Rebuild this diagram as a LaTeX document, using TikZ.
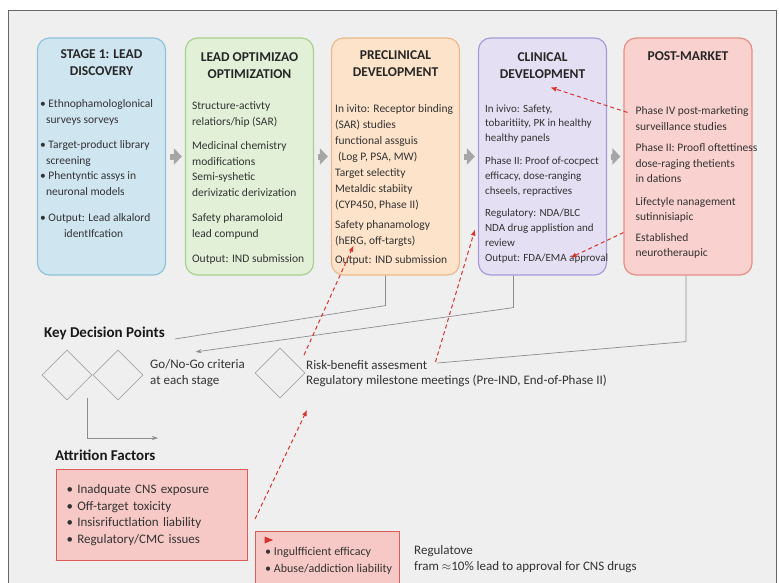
\documentclass[tikz,border=0pt]{standalone}
\usepackage{fontspec}
\setmainfont{Carlito}
\usepackage{xcolor}
\usepackage{tikz}
\usetikzlibrary{shapes.geometric, arrows, arrows.meta}
\definecolor{bgc}{HTML}{EFEFEF}
\definecolor{blueF}{HTML}{CFE6F1}
\definecolor{blueD}{HTML}{8EC3DB}
\definecolor{greenF}{HTML}{E1F0D7}
\definecolor{greenD}{HTML}{A9D18E}
\definecolor{orangeF}{HTML}{FDE3C9}
\definecolor{orangeD}{HTML}{EDB98B}
\definecolor{purpleF}{HTML}{E4DFF3}
\definecolor{purpleD}{HTML}{A89BD8}
\definecolor{redF}{HTML}{F9D1CE}
\definecolor{redD}{HTML}{E68E87}
\definecolor{attrF}{HTML}{F7C9C6}
\definecolor{attrD}{HTML}{DD5E57}
\definecolor{hintc}{HTML}{D8342F}
\definecolor{txt}{HTML}{333333}
\tikzstyle{stage} = [rectangle, rounded corners=12pt, minimum width=128pt, minimum height=237pt, line width=1.2pt]
\tikzstyle{head} = [align=center, inner sep=0pt, text=black!85, font=\bfseries\fontsize{13.5}{16.5}\selectfont]
\tikzstyle{body} = [align=left, anchor=north west, inner sep=0pt, text=txt, font=\fontsize{11.5}{15.5}\selectfont]
\tikzstyle{note} = [align=left, inner sep=0pt, text=txt, font=\fontsize{13}{16.5}\selectfont]
\tikzstyle{sect} = [inner sep=0pt, text=black!90, font=\bfseries\fontsize{15}{18}\selectfont]
\tikzstyle{decision} = [diamond, draw=black!35, line width=0.8pt, minimum width=50pt, minimum height=50pt, inner sep=0pt]
\tikzstyle{attr} = [rectangle, fill=attrF, draw=attrD, line width=1pt]
\tikzstyle{arrow} = [line width=6pt, draw=black!35, -{Triangle[width=16pt,length=8pt]}, shorten <=4pt, shorten >=3pt]
\tikzstyle{line} = [draw=black!45, line width=0.7pt]
\tikzstyle{hint} = [draw=hintc, line width=1pt, dash pattern=on 4pt off 3pt, -{Latex[length=6pt,width=5pt]}]

\begin{document}
\begin{tikzpicture}[x=1pt, y=-1pt]
   \useasboundingbox (0,0) rectangle (779,582);
   \fill[white] (0,0) rectangle (779,582);
   \draw[fill=bgc, draw=black!60] (8,10) rectangle (776,600);

   \node (s1) [stage, fill=blueF, draw=blueD] at (101.5,156.5) {};
   \node (s2) [stage, fill=greenF, draw=greenD] at (249.5,156.5) {};
   \node (s3) [stage, fill=orangeF, draw=orangeD] at (395.5,156.5) {};
   \node (s4) [stage, fill=purpleF, draw=purpleD] at (542.5,156.5) {};
   \node (s5) [stage, fill=redF, draw=redD] at (688,156.5) {};

   \node (h1) [head] at ([yshift=-25pt]s1.north) {STAGE 1: LEAD\\DISCOVERY};
   \node (h2) [head] at ([yshift=-28pt]s2.north) {LEAD OPTIMIZAO\\OPTIMIZATION};
   \node (h3) [head] at ([yshift=-26pt]s3.north) {PRECLINICAL\\DEVELOPMENT};
   \node (h4) [head] at ([yshift=-28pt]s4.north) {CLINICAL\\DEVELOPMENT};
   \node (h5) [head] at ([yshift=-19pt]s5.north) {POST-MARKET};

   \node (b1) [body] at ([xshift=3pt,yshift=-62pt]s1.north west) {\textbullet\ Ethnophamologlonical\\
      \hspace*{6pt}surveys sorveys\\[10pt]
      \textbullet\ Target-product library\\
      \hspace*{6pt}screening\\
      \textbullet\ Phentyntic assys in\\
      \hspace*{6pt}neuronal models\\[11pt]
      \textbullet\ Output: Lead alkalord\\
      \hspace*{24pt}identIfcation};
   \node (b2) [body] at ([xshift=7pt,yshift=-64pt]s2.north west) {Structure-activty\\
      relatiors/hip (SAR)\\[9pt]
      Medicinal chemistry\\
      modifications\\
      Semi-syshetic\\
      derivizatic derivization\\[10pt]
      Safety pharamoloid\\
      lead compund\\[10pt]
      Output: IND submission};
   \node (b3) [body, font=\fontsize{11.5}{16}\selectfont] at ([xshift=4pt,yshift=-67pt]s3.north west) {In ivito: Receptor binding\\
      (SAR) studies\\
      functional assguis\\
      \hspace*{3pt}(Log P, PSA, MW)\\
      Target selectity\\
      Metaldic stabiity\\
      (CYP450, Phase II)\\[4pt]
      Safety phanamology\\
      (hERG, off-targts)\\[3pt]
      Output: IND submission};
   \node (b4) [body, font=\fontsize{11}{14.8}\selectfont] at ([xshift=7pt,yshift=-67pt]s4.north west) {In ivivo: Safety,\\
      tobaritiity, PK in healthy\\
      healthy panels\\[8pt]
      Phase II: Proof of-cocpect\\
      efficacy, dose-ranging\\
      chseels, repractives\\[8pt]
      Regulatory: NDA/BLC\\
      NDA drug applistion and\\
      review\\[0pt]
      Output: FDA/EMA approval};
   \node (b5) [body] at ([xshift=12pt,yshift=-69pt]s5.north west) {Phase IV post-marketing\\
      surveillance studies\\[6pt]
      Phase II: Proofl oftettiness\\
      dose-raging thetients\\
      in dations\\[7pt]
      Lifectyle nanagement\\
      sutinnisiapic\\[5pt]
      Established\\
      neurotheraupic};

   \draw [arrow] (s1) -- (s2);
   \draw [arrow] (s2) -- (s3);
   \draw [arrow] (s3) -- (s4);
   \draw [arrow] (s4) -- (s5);

   \node (kdp) [sect, anchor=west] at (44,333) {Key Decision Points};
   \node (d1) [decision] at (67,375) {};
   \node (d2) [decision] at (118,375) {};
   \node (d3) [decision] at (280,373) {};
   \node (go) [note, anchor=west] at (150,373) {Go/No-Go criteria\\at each stage};
   \node (risk) [note, anchor=west] at (306,365) {Risk-benefit assesment};
   \node (reg) [note, anchor=west] at (306,381) {Regulatory milestone meetings (Pre-IND, End-of-Phase II)};

   \coordinate (c3) at ([xshift=-10pt,yshift=-30pt]s3.south);
   \coordinate (c4) at ([xshift=-29pt,yshift=-32pt]s4.south);
   \coordinate (c5) at ([xshift=-2pt,yshift=-66pt]s5.south);
   \coordinate (af) at (158,438);
   \path [line] ([xshift=-10pt]s3.south) -- (c3) -- ([xshift=10pt,yshift=-6pt]kdp.east);
   \path [line, -{Stealth[length=6pt,width=4pt]}] ([xshift=-29pt]s4.south) -- (c4) -- ([xshift=-2pt,yshift=7pt]go.north);
   \path [line] ([xshift=-2pt]s5.south) -- (c5) -- ([xshift=10pt,yshift=2pt]risk.east);
   \path [line, -{Stealth[length=6pt,width=4pt]}] ([xshift=20pt,yshift=-23pt]d1.center) |- (af);

   \node (att) [sect, anchor=west] at (55,455) {Attrition Factors};
   \node (a1) [attr, anchor=north west, minimum width=191pt, minimum height=91pt, text width=171pt, inner xsep=10pt, align=left, text=txt, font=\fontsize{13}{16.7}\selectfont] at (56,469) {\textbullet\ Inadquate CNS exposure\\
      \textbullet\ Off-target toxicity\\
      \textbullet\ Insisrifuctlation liability\\
      \textbullet\ Regulatory/CMC issues};
   \node (a2) [attr, anchor=north west, minimum width=144pt, minimum height=60pt] at (255,531) {};
   \node (mk) [isosceles triangle, fill=hintc, inner sep=0pt, minimum height=6pt, minimum width=7pt] at ([xshift=12pt,yshift=-9pt]a2.north west) {};
   \node (a2t) [body, font=\fontsize{12}{16.5}\selectfont] at ([xshift=10pt,yshift=-16pt]a2.north west) {\textbullet\ Ingulfficient efficacy\\
      \textbullet\ Abuse/addiction liability};
   \node (fr) [note, anchor=north west] at (414,545) {Regulatove\\fram $\approx$10\% lead to approval for CNS drugs};

   \draw [hint] ([yshift=12pt]a2.north west) -- ([xshift=27pt,yshift=-37pt]d3.center);
   \draw [hint] ([xshift=24pt,yshift=18pt]d3.center) -- ([xshift=-42pt,yshift=30pt]s3.south);
   \draw [hint] ([xshift=8pt,yshift=3pt]risk.east) -- ([xshift=-3pt,yshift=46pt]s4.south west);
   \draw [hint] ([xshift=4pt,yshift=-75pt]s5.north west) -- ([xshift=8pt,yshift=-50pt]s4.north);
   \draw [hint] ([yshift=43pt]s5.south west) -- ([xshift=28pt,yshift=18pt]s4.south);
\end{tikzpicture}
\end{document}
